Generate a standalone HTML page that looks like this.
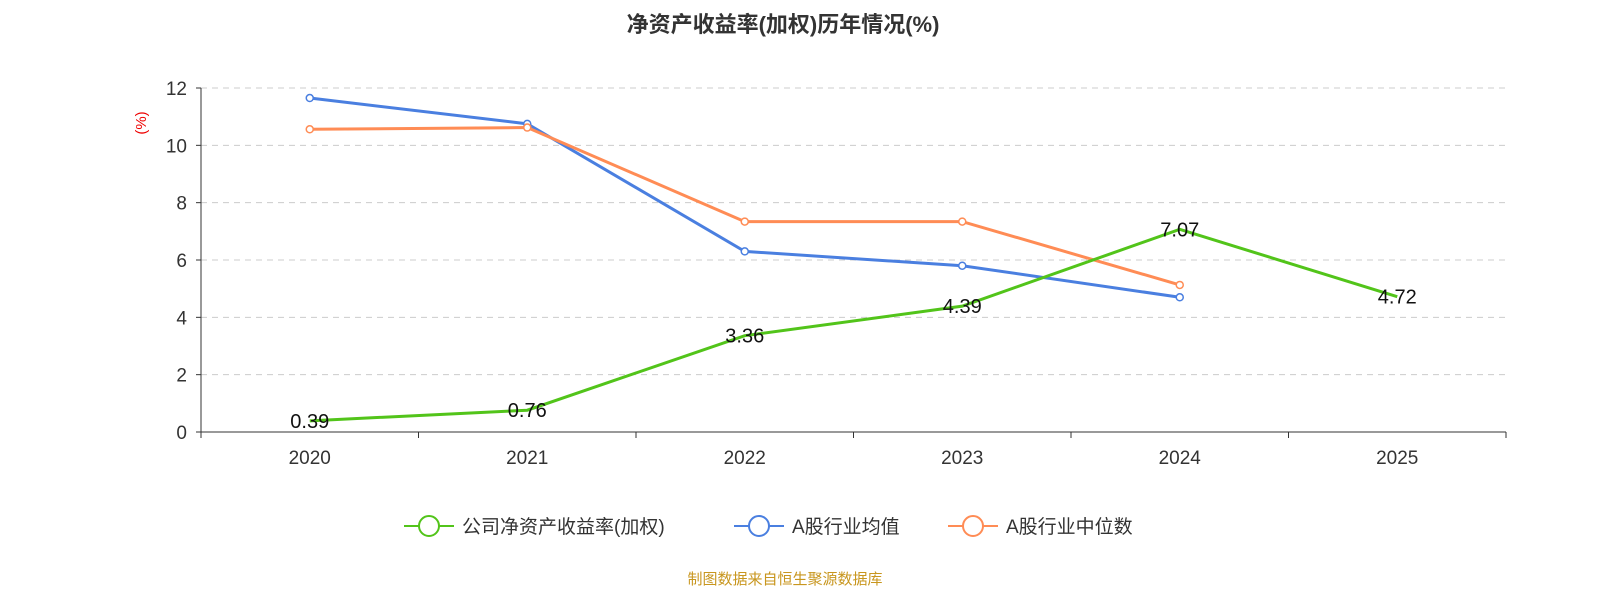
<!DOCTYPE html>
<html><head><meta charset="utf-8"><style>
body{margin:0;background:#fff;width:1600px;height:600px;overflow:hidden;font-family:"Liberation Sans","Noto Sans CJK SC",sans-serif}
</style></head><body>
<svg id="c" width="1600" height="600" xmlns="http://www.w3.org/2000/svg">
<text x="783" y="32" text-anchor="middle" font-size="22" font-weight="bold" fill="#333" font-family="Liberation Sans,Noto Sans CJK SC,sans-serif">净资产收益率(加权)历年情况(%)</text>
<text transform="translate(146,123) rotate(-90)" text-anchor="middle" font-size="15" fill="#e00">(%)</text>
<g id="grid"></g><g id="axes"></g><g id="series"></g>
<g font-size="19" fill="#333" font-family="Liberation Sans,Noto Sans CJK SC,sans-serif">
<g><line x1="404" y1="526" x2="454" y2="526" stroke="#52c41a" stroke-width="2"/><circle cx="429" cy="526" r="10" fill="#fff" stroke="#52c41a" stroke-width="2"/><text x="462" y="533">公司净资产收益率(加权)</text></g>
<g><line x1="734" y1="526" x2="784" y2="526" stroke="#4a7fe0" stroke-width="2"/><circle cx="759" cy="526" r="10" fill="#fff" stroke="#4a7fe0" stroke-width="2"/><text x="792" y="533">A股行业均值</text></g>
<g><line x1="948" y1="526" x2="998" y2="526" stroke="#ff8c55" stroke-width="2"/><circle cx="973" cy="526" r="10" fill="#fff" stroke="#ff8c55" stroke-width="2"/><text x="1006" y="533">A股行业中位数</text></g>
</g>
<text x="785" y="584" text-anchor="middle" font-size="15" fill="#c8961e">制图数据来自恒生聚源数据库</text>
</svg>
<script>
const categories=["2020","2021","2022","2023","2024","2025"];
const companyValues=[0.39,0.76,3.36,4.39,7.07,4.72];
const avgValues=[11.65,10.75,6.3,5.8,4.7];
const medianValues=[10.56,10.62,7.34,7.34,5.13];
const yTicks=[0,2,4,6,8,10,12];
const NS="http://www.w3.org/2000/svg";
const L=201,R=1506,T=88,B=432;
const bw=(R-L)/categories.length;
const xs=i=>L+bw*(i+0.5);
const ys=v=>B-(v/12)*(B-T);
function mk(p,tag,a){const e=document.createElementNS(NS,tag);for(const k in a)e.setAttribute(k,a[k]);document.getElementById(p).appendChild(e);return e;}
yTicks.forEach(v=>{
 if(v>0){const g=mk("grid","line",{x1:L,x2:R,y1:ys(v),y2:ys(v),stroke:"#ccc","stroke-dasharray":"6,5"});
 
 }
 const t=mk("axes","text",{x:L-14,y:ys(v)+7,"text-anchor":"end","font-size":"19",fill:"#333"});t.textContent=v;
 
 
 mk("axes","line",{x1:L-5,x2:L,y1:ys(v),y2:ys(v),stroke:"#333"});
});
mk("axes","line",{x1:L,x2:L,y1:T,y2:B,stroke:"#333"});
mk("axes","line",{x1:L,x2:R,y1:B,y2:B,stroke:"#333"});
for(let i=0;i<=categories.length;i++)mk("axes","line",{x1:L+bw*i,x2:L+bw*i,y1:B,y2:B+6,stroke:"#333"});
categories.forEach((c,i)=>{const t=mk("axes","text",{x:xs(i),y:B+32,"text-anchor":"middle","font-size":"19",fill:"#333"});t.textContent=c;
 
 });
function series(vals,color,name,labels){
 const p=mk("series","polyline",{points:vals.map((v,i)=>xs(i)+","+ys(v)).join(" "),fill:"none",stroke:color,"stroke-width":3});
 
 
 vals.forEach((v,i)=>{
  if(!labels){const c=mk("series","circle",{cx:xs(i),cy:ys(v),r:3.5,fill:"#fff",stroke:color,"stroke-width":1.5});
  
  }
  else{const t=mk("series","text",{x:xs(i),y:ys(v)+7,"text-anchor":"middle","font-size":"20",fill:"#111"});t.textContent=v.toFixed(2);
  
  }
 });
}
series(avgValues,"#4a7fe0","average");
series(medianValues,"#ff8c55","median");
series(companyValues,"#52c41a","company",true);
</script>
</body></html>
